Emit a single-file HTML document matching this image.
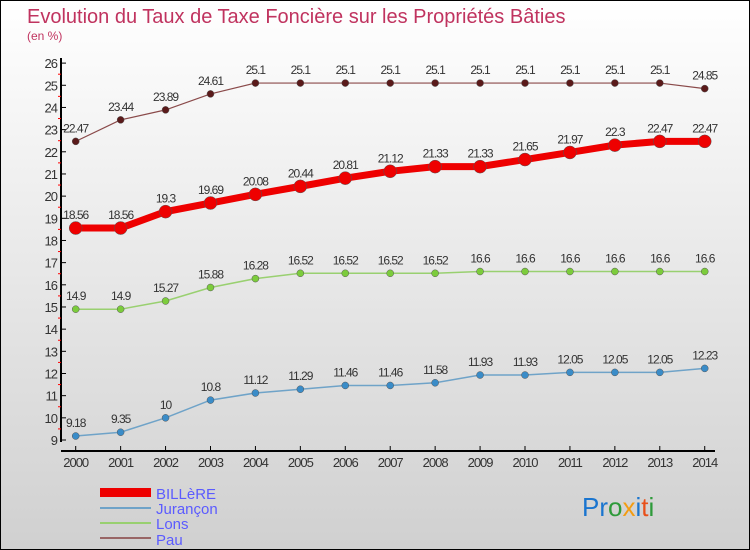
<!DOCTYPE html>
<html><head><meta charset="utf-8"><style>
body{margin:0}
#c{width:750px;height:550px;position:relative;background:linear-gradient(#ffffff,#d0d0d0);box-sizing:border-box;border:1px solid #000;overflow:hidden;font-family:"Liberation Sans",sans-serif}
</style></head><body>
<div id="c">
<svg id="s" width="750" height="550" style="position:absolute;left:-1px;top:-1px">
<text x="27" y="23" font-size="20" fill="#c0335f">Evolution du Taux de Taxe Foncière sur les Propriétés Bâties</text>
<text x="27" y="40" font-size="12" fill="#c0335f">(en %)</text>
<g id="axes"></g><g id="series"></g>
<g font-size="15" fill="#5b5bff">
<rect x="100" y="488" width="51" height="9" fill="#ee0000"/>
<text x="156" y="499">BILLèRE</text>
<rect x="100" y="507" width="51" height="2" fill="#6fa3c8"/>
<text x="156" y="514">Jurançon</text>
<rect x="100" y="522" width="51" height="2" fill="#99d070"/>
<text x="156" y="529">Lons</text>
<rect x="100" y="537" width="51" height="2" fill="#996666"/>
<text x="156" y="545">Pau</text>
</g>
<g font-size="26" font-family="Liberation Sans,sans-serif">
<text x="582" y="516"><tspan fill="#1a75cf">Pr</tspan><tspan fill="#2e9a3a">o</tspan><tspan fill="#f39c12">x</tspan><tspan fill="#1a75cf">i</tspan><tspan fill="#e8501a">t</tspan><tspan fill="#2e9a3a">i</tspan></text>
</g>
</svg>
</div>
<script>
const years=[2000,2001,2002,2003,2004,2005,2006,2007,2008,2009,2010,2011,2012,2013,2014];
const yTicks=[9,10,11,12,13,14,15,16,17,18,19,20,21,22,23,24,25,26];
const billere=[18.56,18.56,19.3,19.69,20.08,20.44,20.81,21.12,21.33,21.33,21.65,21.97,22.3,22.47,22.47];
const jurancon=[9.18,9.35,10,10.8,11.12,11.29,11.46,11.46,11.58,11.93,11.93,12.05,12.05,12.05,12.23];
const lons=[14.9,14.9,15.27,15.88,16.28,16.52,16.52,16.52,16.52,16.6,16.6,16.6,16.6,16.6,16.6];
const pau=[22.47,23.44,23.89,24.61,25.1,25.1,25.1,25.1,25.1,25.1,25.1,25.1,25.1,25.1,24.85];
const NS="http://www.w3.org/2000/svg";
const X=i=>75.7+i*44.93, Y=v=>440-(v-9)*22.17;
function mk(t,a,p){const e=document.createElementNS(NS,t);for(const k in a)e.setAttribute(k,a[k]);p.appendChild(e);return e;}
const ax=document.getElementById('axes');
let l=mk('line',{x1:61,y1:58,x2:61,y2:442,stroke:'#000','stroke-width':2},ax);


l=mk('line',{x1:61,y1:451,x2:715,y2:451,stroke:'#000','stroke-width':2},ax);


yTicks.forEach(v=>{
 mk('line',{x1:61,x2:66,y1:Y(v),y2:Y(v),stroke:'#000'},ax);
 if(v<26)mk('line',{x1:58,x2:61,y1:Y(v+0.5),y2:Y(v+0.5),stroke:'#f00'},ax);
 const t=mk('text',{x:57,y:Y(v)+5,'text-anchor':'end','font-size':13,fill:'#333','letter-spacing':'-1'},ax);
 t.textContent=v;
 
 
});
years.forEach((yr,i)=>{
 mk('line',{x1:X(i),x2:X(i),y1:446,y2:451,stroke:'#000'},ax);
 const t=mk('text',{x:X(i),y:467,'text-anchor':'middle','font-size':13,fill:'#333','letter-spacing':'-1'},ax);
 t.textContent=yr;
 
 
});
const sg=document.getElementById('series');
function draw(name,data,color,lw,r,dot){
 const g=mk('g',{},sg);
 
 
 const p=mk('polyline',{points:data.map((v,i)=>X(i)+','+Y(v)).join(' '),fill:'none',stroke:color,'stroke-width':lw},g);
 
 
 data.forEach((v,i)=>{
  const c=mk('circle',{cx:X(i),cy:Y(v),r:r,fill:dot,stroke:'#555','stroke-width':0.5},g);
  
  
  const t=mk('text',{x:X(i),y:Y(v)-9,'text-anchor':'middle','font-size':12,fill:'#333','letter-spacing':'-1'},g);
  t.textContent=v;
  
  
 });
}
draw('pau',pau,'#8a4a4a',1.2,3.5,'#5a1a1a');
draw('lons',lons,'#99d070',1.5,3.5,'#7ccc3c');
draw('jurancon',jurancon,'#6fa3c8',1.5,3.5,'#3a8cc8');
draw('billere',billere,'#ee0000',7,6.5,'#ee0000');
</script>
</body></html>
